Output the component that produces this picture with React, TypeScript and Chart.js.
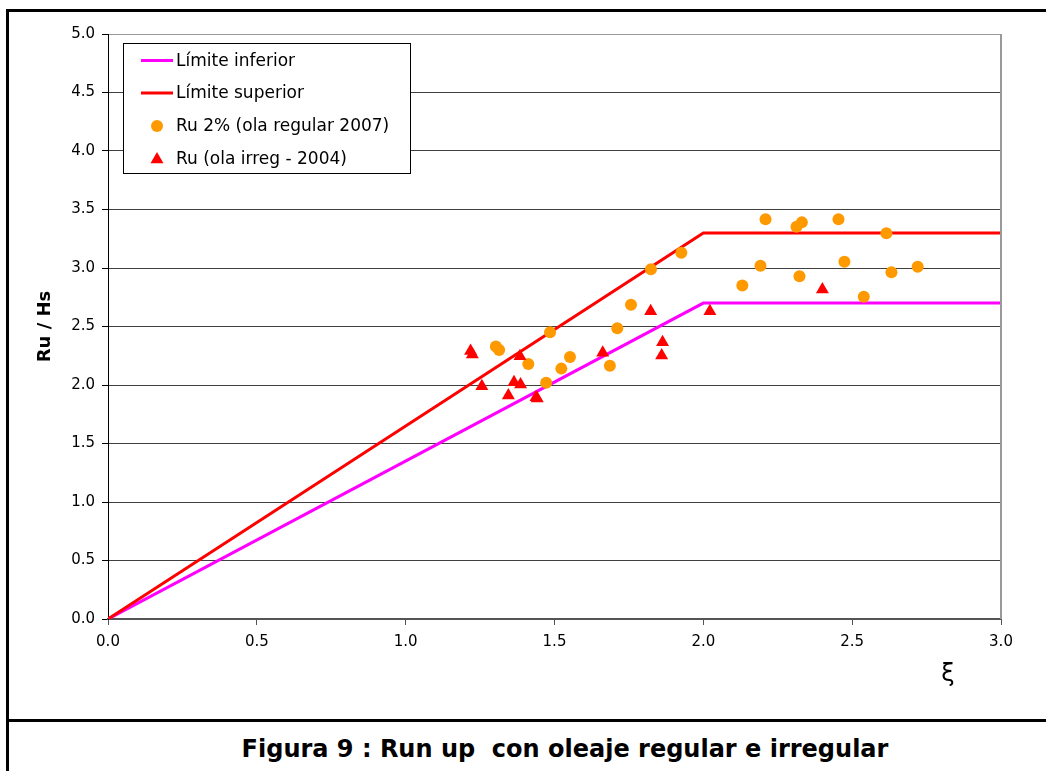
import React, { useEffect, useRef } from "react";
import { Chart, registerables } from "chart.js";

Chart.register(...registerables);

// ---- data ----
const limitX = [0, 2, 3];
const lowerLimit = [0, 2.7, 2.7];
const upperLimit = [0, 3.3, 3.3];

const regularX = [1.303, 1.314, 1.485, 1.412, 1.472, 1.523, 1.552, 1.686, 1.711, 1.757, 1.824, 1.926, 2.131, 2.192, 2.209, 2.313, 2.323, 2.331, 2.454, 2.474, 2.539, 2.615, 2.632, 2.72];
const regularY = [2.33, 2.30, 2.45, 2.18, 2.02, 2.14, 2.24, 2.165, 2.485, 2.686, 2.99, 3.13, 2.85, 3.02, 3.416, 3.353, 2.93, 3.39, 3.416, 3.054, 2.755, 3.297, 2.963, 3.011];

const irregX = [1.218, 1.224, 1.256, 1.345, 1.364, 1.384, 1.386, 1.438, 1.442, 1.662, 1.823, 1.86, 1.863, 2.022, 2.40];
const irregY = [2.29, 2.26, 1.99, 1.91, 2.024, 2.246, 2.004, 1.896, 1.885, 2.275, 2.63, 2.252, 2.366, 2.63, 2.816];

const seriesLabels = ["Límite inferior", "Límite superior", "Ru 2% (ola regular 2007)", "Ru (ola irreg - 2004)"];
const seriesColors = ["#FF00FF", "#FF0000", "#FF9900", "#FF0000"];

const yTitle = "Ru / Hs";
const xTitle = "ξ";
const caption = "Figura 9 : Run up  con oleaje regular e irregular";

const FONT = "'DejaVu Sans', 'Liberation Sans', Arial, sans-serif";

const zip = (xs: number[], ys: number[]) => xs.map((x, i) => ({ x, y: ys[i] }));

const extrasPlugin = {
  id: "extras",
  afterDraw(chart: any) {
    const { ctx, chartArea } = chart;
    ctx.save();
    // right border of plot area
    ctx.strokeStyle = "#999999";
    ctx.lineWidth = 2;
    ctx.beginPath();
    ctx.moveTo(chartArea.right, chartArea.top);
    ctx.lineTo(chartArea.right, chartArea.bottom);
    ctx.stroke();

    // y title
    ctx.fillStyle = "#000";
    ctx.font = `bold 18px ${FONT}`;
    ctx.textAlign = "center";
    ctx.textBaseline = "middle";
    ctx.save();
    ctx.translate(45, (chartArea.top + chartArea.bottom) / 2);
    ctx.rotate(-Math.PI / 2);
    ctx.fillText(yTitle, 0, 0);
    ctx.restore();

    // x title
    ctx.font = `24px ${FONT}`;
    ctx.fillText(xTitle, 948, 675);

    // legend
    const lx = 123.5, ly = 43.5, lw = 287, lh = 130;
    ctx.fillStyle = "#fff";
    ctx.fillRect(lx, ly, lw, lh);
    ctx.strokeStyle = "#000";
    ctx.lineWidth = 1;
    ctx.strokeRect(lx, ly, lw, lh);
    const rows = [60.5, 93, 126, 158.5];
    ctx.font = `17px ${FONT}`;
    ctx.textAlign = "left";
    ctx.textBaseline = "middle";
    rows.forEach((yy, i) => {
      const c = seriesColors[i];
      if (i < 2) {
        ctx.strokeStyle = c;
        ctx.lineWidth = 3;
        ctx.beginPath();
        ctx.moveTo(141, yy);
        ctx.lineTo(173, yy);
        ctx.stroke();
      } else if (i === 2) {
        ctx.fillStyle = c;
        ctx.beginPath();
        ctx.arc(157, yy, 6, 0, Math.PI * 2);
        ctx.fill();
      } else {
        ctx.fillStyle = c;
        ctx.beginPath();
        const r = 7.5;
        const cy = yy + 1;
        ctx.moveTo(157, cy - r);
        ctx.lineTo(157 + r * Math.sin((2 * Math.PI) / 3), cy - r * Math.cos((2 * Math.PI) / 3));
        ctx.lineTo(157 + r * Math.sin((4 * Math.PI) / 3), cy - r * Math.cos((4 * Math.PI) / 3));
        ctx.closePath();
        ctx.fill();
      }
      ctx.fillStyle = "#000";
      ctx.fillText(seriesLabels[i], 176, yy + 1);
    });
    ctx.restore();
  },
};

export default function App() {
  const ref = useRef<HTMLCanvasElement | null>(null);

  useEffect(() => {
    if (!ref.current) return;
    const chart = new Chart(ref.current, {
      type: "scatter",
      data: {
        datasets: [
          {
            label: seriesLabels[0],
            data: zip(limitX, lowerLimit),
            showLine: true,
            borderColor: seriesColors[0],
            backgroundColor: seriesColors[0],
            borderWidth: 3,
            pointRadius: 0,
            tension: 0,
            order: 3,
          },
          {
            label: seriesLabels[1],
            data: zip(limitX, upperLimit),
            showLine: true,
            borderColor: seriesColors[1],
            backgroundColor: seriesColors[1],
            borderWidth: 3,
            pointRadius: 0,
            tension: 0,
            order: 2,
          },
          {
            label: seriesLabels[2],
            data: zip(regularX, regularY),
            backgroundColor: seriesColors[2],
            borderColor: seriesColors[2],
            borderWidth: 0,
            pointRadius: 6,
            pointStyle: "circle",
            order: 1,
          },
          {
            label: seriesLabels[3],
            data: zip(irregX, irregY),
            backgroundColor: seriesColors[3],
            borderColor: seriesColors[3],
            borderWidth: 0,
            pointRadius: 7.5,
            pointStyle: "triangle",
            order: 0,
          },
        ],
      },
      options: {
        animation: false,
        responsive: false,
        devicePixelRatio: 1,
        layout: { padding: { left: 0, top: 34, right: 45, bottom: 0 } },
        plugins: {
          legend: { display: false },
          tooltip: { enabled: false },
          title: { display: false },
        },
        scales: {
          x: {
            type: "linear",
            min: 0,
            max: 3,
            ticks: {
              stepSize: 0.5,
              callback: (v: any) => Number(v).toFixed(1),
              color: "#000",
              font: { family: FONT, size: 15 },
              padding: 8,
              maxRotation: 0,
            },
            grid: {
              drawOnChartArea: false,
              drawTicks: true,
              tickLength: 6,
              color: "#555",
            },
            border: { color: "#555", width: 2 },
            afterFit: (s: any) => {
              s.height = 100;
            },
          },
          y: {
            type: "linear",
            min: 0,
            max: 5,
            ticks: {
              stepSize: 0.5,
              callback: (v: any) => Number(v).toFixed(1),
              color: "#000",
              font: { family: FONT, size: 15 },
              padding: 7,
            },
            grid: {
              drawTicks: true,
              tickLength: 6,
              color: (c: any) => (c.tick && c.tick.value === 5 ? "#999999" : "#404040"),
              tickColor: "#000",
            },
            border: { color: "#000", width: 1 },
            afterFit: (s: any) => {
              s.width = 108;
            },
          },
        },
      },
      plugins: [extrasPlugin],
    });
    return () => chart.destroy();
  }, []);

  return (
    <div
      style={{
        position: "absolute",
        left: 0,
        top: 0,
        width: 1046,
        height: 771,
        overflow: "hidden",
        background: "#fff",
      }}
    >
      <div
        style={{
          position: "absolute",
          left: 6,
          top: 9,
          width: 1200,
          height: 900,
          borderLeft: "3px solid #000",
          borderTop: "3px solid #000",
          boxSizing: "border-box",
        }}
      />
      <div
        style={{
          position: "absolute",
          left: 6,
          top: 719,
          width: 1200,
          height: 3,
          background: "#000",
        }}
      />
      <canvas
        ref={ref}
        width={1046}
        height={719}
        style={{ position: "absolute", left: 0, top: 0, width: 1046, height: 719 }}
      />
      <div
        style={{
          position: "absolute",
          left: 0,
          top: 734,
          width: 1130,
          textAlign: "center",
          font: `bold 24px ${FONT}`,
          lineHeight: "30px",
          color: "#000",
          whiteSpace: "pre",
        }}
      >
        {caption}
      </div>
    </div>
  );
}
